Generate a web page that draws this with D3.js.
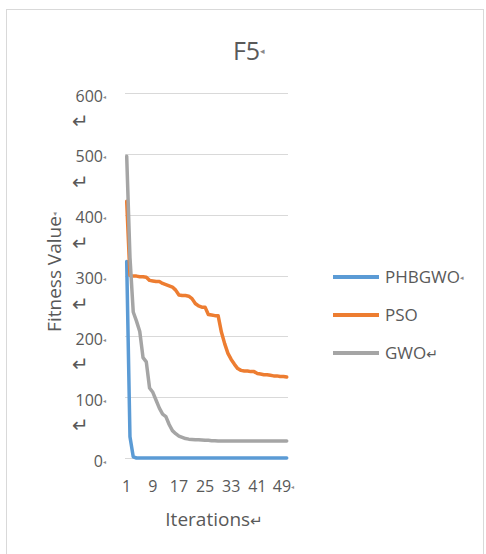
<!DOCTYPE html>
<html>
<head>
<meta charset="utf-8">
<script src="https://cdn.jsdelivr.net/npm/d3@7"></script>
<style>
html,body{margin:0;padding:0;background:#fff;}
svg{display:block;font-family:"Open Sans",sans-serif;}
</style>
</head>
<body>
<svg id="chart" width="486" height="554"></svg>
<script>
const title = "F5";
const yLabel = "Fitness Value";
const xLabel = "Iterations";
const iterations = d3.range(1, 51);
const xTickLabels = [1, 9, 17, 25, 33, 41, 49];
const yTickValues = [0, 100, 200, 300, 400, 500, 600];
const seriesNames = ["PHBGWO", "PSO", "GWO"];
const seriesColors = ["#5B9BD5", "#ED7D31", "#A5A5A5"];
const phbgwo = [323, 35, 2, 0, 0, 0, 0, 0, 0, 0,
  0, 0, 0, 0, 0, 0, 0, 0, 0, 0,
  0, 0, 0, 0, 0, 0, 0, 0, 0, 0,
  0, 0, 0, 0, 0, 0, 0, 0, 0, 0,
  0, 0, 0, 0, 0, 0, 0, 0, 0, 0];
const pso = [422, 300, 299, 299, 298, 298, 297, 292, 291, 290,
  290, 287, 285, 283, 281, 276, 268, 267, 267, 266,
  262, 254, 250, 248, 248, 236, 235, 234, 234, 207,
  188, 172, 162, 154, 147, 144, 143, 143, 142, 142,
  139, 138, 137, 137, 136, 135, 135, 134, 134, 133];
const gwo = [496, 330, 240, 225, 208, 165, 158, 115, 108, 95,
  82, 72, 68, 55, 45, 40, 36, 34, 32, 31,
  30.5, 30, 30, 29.5, 29, 29, 28.5, 28.5, 28, 28,
  28, 28, 28, 28, 28, 28, 28, 28, 28, 28,
  28, 28, 28, 28, 28, 28, 28, 28, 28, 28];
const seriesValues = [phbgwo, pso, gwo];

const svg = d3.select("#chart");
const textColor = "#595959";

// chart area border
svg.append("rect").attr("x", 6.5).attr("y", 9.5).attr("width", 477).attr("height", 560)
  .attr("fill", "#fff").attr("stroke", "#D9D9D9").attr("stroke-width", 1);

const x = d3.scalePoint().domain(iterations).range([126.7, 286.7]);
const y = d3.scaleLinear().domain([0, 600]).range([458, 93]);

// gridlines
svg.append("g").selectAll("line").data(yTickValues).join("line")
  .attr("x1", 125).attr("x2", 288)
  .attr("y1", d => Math.round(y(d)) + 0.5).attr("y2", d => Math.round(y(d)) + 0.5)
  .attr("stroke", "#D9D9D9").attr("stroke-width", 1);

// y tick labels
const yt = svg.append("g").selectAll("g").data(yTickValues).join("g");
const ytext = yt.append("text")
  .attr("x", 106).attr("y", d => y(d) + 8.5)
  .attr("text-anchor", "end").attr("fill", textColor).attr("font-size", 16);
ytext.append("tspan").text(d => d);
ytext.append("tspan").text("\u25C2").attr("font-size", 6).attr("fill", "#8a8a8a").attr("dy", -3);
yt.filter(d => d > 0).append("text")
  .attr("x", 72).attr("y", d => y(d) + 35)
  .attr("fill", textColor).attr("font-size", 20)
  .attr("font-family", "DejaVu Sans")
  .text("\u21B5");

// x tick labels
const xt = svg.append("g").selectAll("text").data(xTickLabels).join("text")
  .attr("x", d => x(d)).attr("y", 492)
  .attr("text-anchor", "middle").attr("fill", textColor).attr("font-size", 16)
  .text(d => d);
xt.filter(d => d === 49).append("tspan").text("\u25C2").attr("font-size", 6)
  .attr("fill", "#8a8a8a").attr("dy", -3);

// axis titles
const xl = svg.append("text").attr("x", 214).attr("y", 526)
  .attr("text-anchor", "middle").attr("fill", textColor).attr("font-size", 19);
xl.append("tspan").text(xLabel);
xl.append("tspan").text("\u21B5").attr("font-family", "DejaVu Sans").attr("font-size", 15);

const yl = svg.append("text")
  .attr("transform", "translate(61,272) rotate(-90)")
  .attr("text-anchor", "middle").attr("fill", textColor).attr("font-size", 19);
yl.append("tspan").text(yLabel);
yl.append("tspan").text("\u25C2").attr("font-size", 7).attr("fill", "#8a8a8a").attr("dy", -4);

// title
const tt = svg.append("text").attr("x", 249).attr("y", 60)
  .attr("text-anchor", "middle").attr("fill", textColor).attr("font-size", 25);
tt.append("tspan").text(title);
tt.append("tspan").text("\u25C2").attr("font-size", 9).attr("fill", "#8a8a8a").attr("dy", -6);

// lines
const line = d3.line().x((d, i) => x(iterations[i])).y(d => y(d));
seriesValues.forEach((vals, k) => {
  svg.append("path").datum(vals)
    .attr("d", line)
    .attr("fill", "none")
    .attr("stroke", seriesColors[k])
    .attr("stroke-width", 3.5)
    .attr("stroke-linejoin", "round")
    .attr("stroke-linecap", "round");
});

// legend
const legendMarks = ["\u25C2", "", "\u21B5"];
const lg = svg.append("g").selectAll("g").data(seriesNames).join("g")
  .attr("transform", (d, i) => `translate(0,${277 + i * 38})`);
lg.append("line").attr("x1", 333).attr("x2", 379).attr("y1", 0).attr("y2", 0)
  .attr("stroke", (d, i) => seriesColors[i]).attr("stroke-width", 4);
const ltext = lg.append("text").attr("x", 385).attr("y", 6)
  .attr("fill", textColor).attr("font-size", 17);
ltext.append("tspan").text(d => d);
ltext.append("tspan").text((d, i) => legendMarks[i])
  .attr("font-family", (d, i) => i === 2 ? "DejaVu Sans" : null)
  .attr("font-size", (d, i) => i === 0 ? 7 : 14)
  .attr("fill", (d, i) => i === 0 ? "#8a8a8a" : textColor)
  .attr("dy", (d, i) => i === 0 ? -3 : 0);
</script>
</body>
</html>
